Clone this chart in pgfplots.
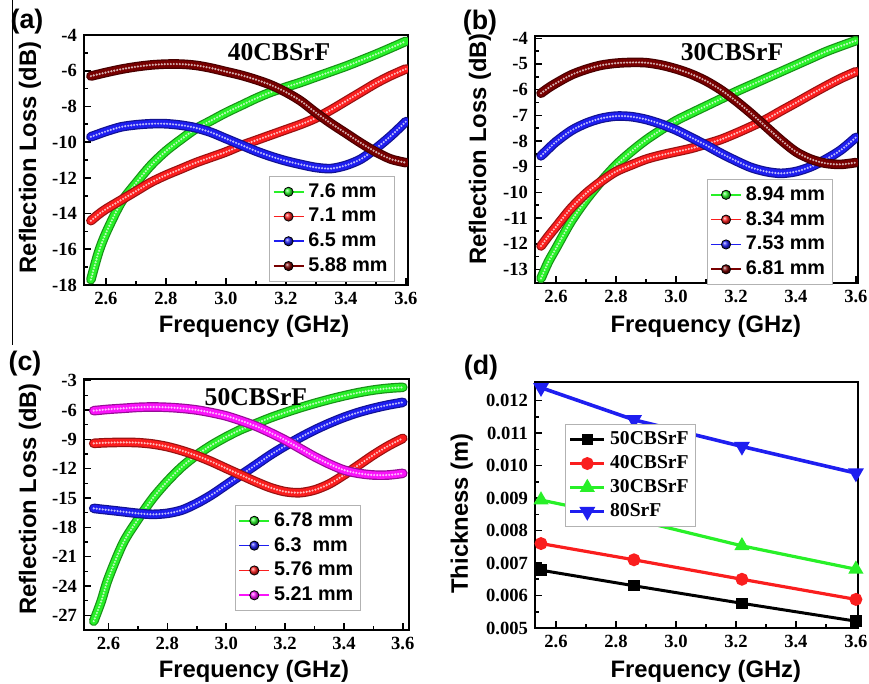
\documentclass[border=0pt]{standalone}
\usepackage{fontspec}
\setmainfont{Liberation Serif}
\setsansfont{Liberation Sans}
\usepackage{pgfplots}
\usepackage{pgfplotstable}
\pgfplotsset{compat=1.18}

\definecolor{cgreen}{RGB}{40,240,40}
\definecolor{cred}{RGB}{250,30,30}
\definecolor{cblue}{RGB}{30,30,240}
\definecolor{cbrown}{RGB}{120,0,0}
\definecolor{cmag}{RGB}{250,20,250}

% RL curves, one table per panel
\pgfplotstableread{
f     g      r      b      k
2.55  -17.7  -14.4  -9.7   -6.3
2.575 -16.2  -14.05 -9.55  -6.2
2.60  -15.1  -13.75 -9.4   -6.1
2.65  -13.4  -13.25 -9.15  -5.92
2.70  -12.3  -12.75 -9.03  -5.78
2.75  -11.3  -12.25 -8.97  -5.68
2.80  -10.5  -11.85 -8.97  -5.63
2.85  -9.85  -11.5  -9.05  -5.63
2.90  -9.25  -11.15 -9.2   -5.7
2.95  -8.8   -10.85 -9.45  -5.85
3.00  -8.35  -10.55 -9.8   -6.05
3.05  -7.95  -10.2  -10.15 -6.25
3.10  -7.55  -9.9   -10.5  -6.5
3.15  -7.2   -9.6   -10.8  -6.8
3.20  -6.92  -9.3   -11.05 -7.2
3.25  -6.65  -9.0   -11.25 -7.7
3.30  -6.35  -8.65  -11.42 -8.35
3.35  -6.05  -8.2   -11.48 -8.95
3.40  -5.75  -7.7   -11.3  -9.5
3.45  -5.42  -7.2   -10.95 -10.05
3.50  -5.08  -6.7   -10.35 -10.55
3.55  -4.72  -6.27  -9.65  -10.95
3.60  -4.35  -5.9   -8.85  -11.15
}\tabA

\pgfplotstableread{
f     g      r      b      k
2.55  -13.35 -12.09 -8.58  -6.14
2.575 -12.7  -11.7  -8.3   -5.93
2.60  -12.18 -11.34 -8.03  -5.75
2.65  -11.14 -10.62 -7.60  -5.43
2.70  -10.30 -10.04 -7.31  -5.21
2.75  -9.58  -9.58  -7.12  -5.05
2.80  -8.94  -9.19  -7.03  -4.97
2.85  -8.42  -8.94  -7.05  -4.94
2.90  -7.96  -8.71  -7.16  -4.95
2.95  -7.57  -8.55  -7.34  -5.04
3.00  -7.21  -8.42  -7.57  -5.19
3.05  -6.92  -8.29  -7.86  -5.39
3.10  -6.64  -8.12  -8.16  -5.66
3.15  -6.36  -7.94  -8.48  -6.01
3.20  -6.08  -7.70  -8.77  -6.44
3.25  -5.82  -7.44  -9.03  -6.92
3.30  -5.56  -7.16  -9.19  -7.44
3.35  -5.30  -6.83  -9.26  -7.96
3.40  -5.04  -6.51  -9.19  -8.42
3.45  -4.78  -6.18  -9.00  -8.71
3.50  -4.52  -5.86  -8.71  -8.87
3.55  -4.30  -5.56  -8.35  -8.91
3.60  -4.09  -5.30  -7.86  -8.84
}\tabB

\pgfplotstableread{
f     g      b      r      m
2.55  -27.6  -16.06 -9.41  -6.07
2.575 -25.6  -16.15 -9.37  -6.0
2.60  -23.2  -16.23 -9.34  -5.93
2.65  -19.6  -16.4  -9.31  -5.83
2.70  -17.2  -16.57 -9.34  -5.73
2.75  -15.05 -16.67 -9.48  -5.69
2.80  -13.3  -16.57 -9.75  -5.73
2.85  -11.8  -16.23 -10.16 -5.83
2.90  -10.6  -15.55 -10.67 -6.0
2.95  -9.6   -14.69 -11.28 -6.27
3.00  -8.75  -13.67 -11.97 -6.61
3.05  -8.0   -12.65 -12.65 -7.09
3.10  -7.4   -11.63 -13.33 -7.64
3.15  -6.8   -10.6  -13.94 -8.32
3.20  -6.27  -9.68  -14.35 -9.07
3.25  -5.78  -8.83  -14.46 -9.92
3.30  -5.33  -8.05  -14.18 -10.77
3.35  -4.92  -7.36  -13.57 -11.52
3.40  -4.55  -6.75  -12.65 -12.14
3.45  -4.22  -6.24  -11.63 -12.48
3.50  -3.96  -5.83  -10.6  -12.65
3.55  -3.78  -5.49  -9.68  -12.65
3.60  -3.68  -5.22  -8.9   -12.48
}\tabC

\pgfplotstableread{
f     a        b        c        d
2.55  0.00678  0.0076   0.00894  0.0124
2.86  0.0063   0.0071   0.00834  0.01141
3.22  0.00576  0.0065   0.00753  0.01059
3.60  0.00521  0.00588  0.00681  0.00977
}\tabD

% beaded band: dark edge, colour body, light dots
\newcommand{\band}[3]{%
  \addplot[forget plot, smooth, line width=4.8pt, line cap=round, #1!60!black] table[x=f, y=#3] {#2};
  \addplot[forget plot, smooth, line width=3.6pt, line cap=round, #1] table[x=f, y=#3] {#2};
  \addplot[forget plot, smooth, line width=1.2pt, line cap=round, dash pattern=on 0pt off 1.5pt, white!70!#1] table[x=f, y=#3] {#2};
}
\newcommand{\legball}[1]{\addlegendimage{legend image code/.code={%
  \draw[#1, line width=0.8pt] (0pt,0pt) -- (15pt,0pt);
  \shade[ball color=#1] (7.5pt,0pt) circle (2.3pt);}}}

\pgfplotsset{
  panel/.style={
    scale only axis, anchor=north west,
    axis line style={line width=1pt},
    tick align=inside, tick pos=left,
    major tick length=3.5pt, minor tick length=2pt,
    every tick/.style={black, line width=0.8pt},
    every tick label/.append style={font=\rmfamily\bfseries\fontsize{9.3}{10}\selectfont},
    /pgf/number format/assume math mode=true,
    xtick={2.6,2.8,3.0,3.2,3.4,3.6}, minor x tick num=1, minor y tick num=1,
    x tick label style={/pgf/number format/.cd, fixed, fixed zerofill, precision=1},
    every axis x label/.append style={font=\sffamily\bfseries\fontsize{11.9}{13}\selectfont},
    every axis y label/.append style={font=\sffamily\bfseries\fontsize{11.9}{13}\selectfont},
    xlabel={Frequency (GHz)},
    legend cell align=left,
    legend style={draw=gray!60, line width=0.4pt, font=\sffamily\bfseries\fontsize{9.9}{10.5}\selectfont,
      inner sep=1.5pt, row sep=0pt},
  },
}

\begin{document}
\begin{tikzpicture}
\useasboundingbox (0,0) rectangle (434.5pt,-342pt);
\draw[line width=0.5pt] (6pt,0pt) -- (6pt,-172.5pt);
\node[font=\sffamily\bfseries\fontsize{13.4}{15}\selectfont] at (13.5pt,-11pt) {(a)};
\node[font=\sffamily\bfseries\fontsize{13.4}{15}\selectfont] at (240pt,-11.5pt) {(b)};
\node[font=\sffamily\bfseries\fontsize{13.4}{15}\selectfont] at (12.5pt,-182pt) {(c)};
\node[font=\sffamily\bfseries\fontsize{13.4}{15}\selectfont] at (240.5pt,-184pt) {(d)};

% (a) 40CBSrF
\begin{axis}[panel, at={(42pt,-17.5pt)}, width=162pt, height=125pt,
  xmin=2.527, xmax=3.607, ymin=-18, ymax=-4,
  ytick={-18,-16,-14,-12,-10,-8,-6,-4},
  ylabel={Reflection Loss (dB)},
  xlabel style={at={(axis description cs:0.525,-0.164)}, anchor=center},
  ylabel style={at={(axis description cs:-0.167,0.51)}, anchor=center},
  legend style={at={(rel axis cs:0.572,0.436)}, anchor=north west}]
\band{cgreen}{\tabA}{g}
\band{cred}{\tabA}{r}
\band{cblue}{\tabA}{b}
\band{cbrown}{\tabA}{k}
\legball{cgreen}\addlegendentry{7.6 mm}
\legball{cred}\addlegendentry{7.1 mm}
\legball{cblue}\addlegendentry{6.5 mm}
\legball{cbrown}\addlegendentry{5.88 mm}
\node[font=\bfseries\fontsize{12.8}{14}\selectfont] at (rel axis cs:0.602,0.932) {40CBSrF};
\end{axis}

% (b) 30CBSrF
\begin{axis}[panel, at={(267.5pt,-18pt)}, width=161.5pt, height=123.5pt,
  xmin=2.53, xmax=3.607, ymin=-13.53, ymax=-3.91,
  ytick={-13,-12,-11,-10,-9,-8,-7,-6,-5,-4},
  ylabel={Reflection Loss (dB)},
  xlabel style={at={(axis description cs:0.529,-0.174)}, anchor=center},
  ylabel style={at={(axis description cs:-0.170,0.543)}, anchor=center},
  legend style={at={(rel axis cs:0.532,0.421)}, anchor=north west}]
\band{cgreen}{\tabB}{g}
\band{cred}{\tabB}{r}
\band{cblue}{\tabB}{b}
\band{cbrown}{\tabB}{k}
\legball{cgreen}\addlegendentry{8.94 mm}
\legball{cred}\addlegendentry{8.34 mm}
\legball{cblue}\addlegendentry{7.53 mm}
\legball{cbrown}\addlegendentry{6.81 mm}
\node[font=\bfseries\fontsize{12.8}{14}\selectfont] at (rel axis cs:0.61,0.935) {30CBSrF};
\end{axis}

% (c) 50CBSrF
\begin{axis}[panel, at={(42pt,-189.5pt)}, width=162.5pt, height=125.5pt,
  xmin=2.517, xmax=3.621, ymin=-28.5, ymax=-2.83,
  ytick={-27,-24,-21,-18,-15,-12,-9,-6,-3},
  ylabel={Reflection Loss (dB)},
  xlabel style={at={(axis description cs:0.523,-0.163)}, anchor=center},
  ylabel style={at={(axis description cs:-0.166,0.522)}, anchor=center},
  legend style={at={(rel axis cs:0.465,0.498)}, anchor=north west}]
\band{cgreen}{\tabC}{g}
\band{cblue}{\tabC}{b}
\band{cred}{\tabC}{r}
\band{cmag}{\tabC}{m}
\legball{cgreen}\addlegendentry{6.78 mm}
\legball{cblue}\addlegendentry{6.3~~mm}
\legball{cred}\addlegendentry{5.76 mm}
\legball{cmag}\addlegendentry{5.21 mm}
\node[font=\bfseries\fontsize{12.8}{14}\selectfont] at (rel axis cs:0.529,0.928) {50CBSrF};
\end{axis}

% (d) thickness
\begin{axis}[panel, at={(267.5pt,-191pt)}, width=161.5pt, height=123pt,
  xmin=2.53, xmax=3.607, ymin=0.005, ymax=0.012575,
  ytick={0.005,0.006,0.007,0.008,0.009,0.010,0.011,0.012},
  scaled y ticks=false,
  y tick label style={/pgf/number format/.cd, fixed, fixed zerofill, precision=3},
  ylabel={Thickness (m)},
  xlabel style={at={(axis description cs:0.529,-0.175)}, anchor=center},
  ylabel style={at={(axis description cs:-0.227,0.465)}, anchor=center},
  legend style={at={(rel axis cs:0.093,0.829)}, anchor=north west,
    font=\rmfamily\bfseries\fontsize{9.8}{11}\selectfont}]
\addplot[black, line width=1.5pt, mark=square*, mark size=2.1pt] table[x=f, y=a] {\tabD};
\addlegendentry{50CBSrF}
\addplot[cred, line width=1.6pt, mark=*, mark size=2.4pt] table[x=f, y=b] {\tabD};
\addlegendentry{40CBSrF}
\addplot[cgreen, line width=1.6pt, mark=triangle*, mark size=2.8pt] table[x=f, y=c] {\tabD};
\addlegendentry{30CBSrF}
\addplot[cblue, line width=1.8pt, mark=triangle*, mark size=2.8pt, mark options={rotate=180}] table[x=f, y=d] {\tabD};
\addlegendentry{80SrF}
\end{axis}
\end{tikzpicture}
\end{document}
